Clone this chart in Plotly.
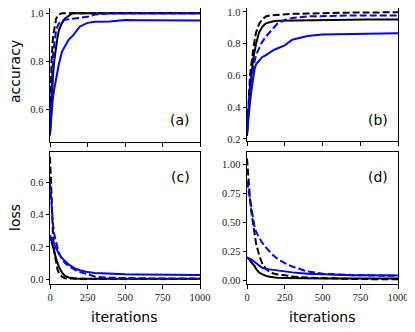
import plotly.graph_objects as go
from plotly.subplots import make_subplots

# page body has an 8px margin, so the figure is drawn 8px smaller and everything shifted
OFF = 8
W, H = 415 - OFF, 332 - OFF

iters = [0, 10, 20, 30, 40, 50, 60, 80, 100, 125, 150, 175, 200, 250, 300,
         400, 500, 600, 700, 800, 900, 1000]

# (a) accuracy
acc_a_black = [0.49, 0.63, 0.74, 0.81, 0.86, 0.90, 0.93, 0.96, 0.978, 0.99, 1.0,
               1.0, 1.0, 1.0, 1.0, 1.0, 1.0, 1.0, 1.0, 1.0, 1.0, 1.0]
acc_a_black_d = [0.50, 0.80, 0.90, 0.95, 0.975, 0.99, 0.995, 1.0, 1.0, 1.0, 1.0,
                 1.0, 1.0, 1.0, 1.0, 1.0, 1.0, 1.0, 1.0, 1.0, 1.0, 1.0]
acc_a_blue = [0.50, 0.60, 0.65, 0.69, 0.73, 0.76, 0.79, 0.84, 0.865, 0.89, 0.905,
              0.925, 0.945, 0.96, 0.965, 0.966, 0.972, 0.971, 0.970, 0.970, 0.970, 0.970]
acc_a_blue_d = [0.52, 0.72, 0.82, 0.88, 0.925, 0.945, 0.958, 0.968, 0.973, 0.975, 0.977,
                0.978, 0.98, 0.985, 0.995, 1.0, 1.0, 1.0, 1.0, 1.0, 1.0, 1.0]

# (b) accuracy
acc_b_black = [0.22, 0.38, 0.53, 0.60, 0.70, 0.75, 0.80, 0.87, 0.905, 0.928, 0.937,
               0.942, 0.944, 0.945, 0.945, 0.945, 0.946, 0.952, 0.952, 0.952, 0.952, 0.952]
acc_b_black_d = [0.22, 0.42, 0.60, 0.68, 0.76, 0.82, 0.87, 0.925, 0.952, 0.972, 0.978,
                 0.98, 0.982, 0.985, 0.988, 0.99, 0.993, 0.995, 0.996, 0.997, 0.998, 0.998]
acc_b_blue = [0.24, 0.36, 0.43, 0.51, 0.58, 0.64, 0.67, 0.695, 0.715, 0.728, 0.745,
              0.76, 0.77, 0.79, 0.825, 0.848, 0.858, 0.86, 0.862, 0.864, 0.865, 0.866]
acc_b_blue_d = [0.24, 0.38, 0.50, 0.58, 0.65, 0.69, 0.73, 0.77, 0.81, 0.845, 0.87,
                0.90, 0.925, 0.95, 0.962, 0.972, 0.975, 0.977, 0.978, 0.978, 0.978, 0.978]

# (c) loss
loss_c_black = [0.27, 0.23, 0.19, 0.16, 0.13, 0.10, 0.075, 0.04, 0.02, 0.01, 0.005,
                0.003, 0.002, 0.001, 0.001, 0.001, 0.001, 0.001, 0.001, 0.001, 0.001, 0.001]
loss_c_black_d = [0.76, 0.45, 0.27, 0.16, 0.10, 0.06, 0.035, 0.015, 0.004, 0.002, 0.001,
                  0.001, 0.001, 0.0, 0.0, 0.0, 0.0, 0.0, 0.0, 0.0, 0.0, 0.0]
loss_c_blue = [0.27, 0.25, 0.23, 0.21, 0.195, 0.175, 0.155, 0.13, 0.11, 0.09, 0.075,
               0.062, 0.055, 0.043, 0.037, 0.031, 0.029, 0.028, 0.027, 0.026, 0.025, 0.025]
loss_c_blue_d = [0.60, 0.45, 0.34, 0.27, 0.23, 0.19, 0.16, 0.125, 0.10, 0.08, 0.065,
                 0.052, 0.044, 0.028, 0.015, 0.008, 0.005, 0.004, 0.003, 0.003, 0.003, 0.003]

# (d) loss
loss_d_black = [0.20, 0.19, 0.17, 0.155, 0.14, 0.125, 0.10, 0.07, 0.055, 0.04, 0.033,
                0.028, 0.024, 0.022, 0.02, 0.019, 0.018, 0.018, 0.017, 0.017, 0.017, 0.017]
loss_d_black_d = [1.05, 0.85, 0.70, 0.58, 0.48, 0.40, 0.32, 0.22, 0.15, 0.10, 0.075,
                  0.06, 0.052, 0.045, 0.035, 0.025, 0.02, 0.016, 0.013, 0.012, 0.011, 0.01]
loss_d_blue = [0.20, 0.195, 0.19, 0.18, 0.17, 0.16, 0.15, 0.125, 0.11, 0.10, 0.095,
               0.09, 0.085, 0.078, 0.07, 0.058, 0.052, 0.048, 0.046, 0.045, 0.044, 0.043]
loss_d_blue_d = [0.86, 0.78, 0.70, 0.58, 0.51, 0.46, 0.42, 0.37, 0.325, 0.285, 0.25,
                 0.215, 0.19, 0.15, 0.12, 0.078, 0.058, 0.05, 0.046, 0.044, 0.042, 0.04]

x_ticks = [0, 250, 500, 750, 1000]

panels = [
    (1, 1, [acc_a_black, acc_a_black_d, acc_a_blue, acc_a_blue_d]),
    (1, 2, [acc_b_black, acc_b_black_d, acc_b_blue, acc_b_blue_d]),
    (2, 1, [loss_c_black, loss_c_black_d, loss_c_blue, loss_c_blue_d]),
    (2, 2, [loss_d_black, loss_d_black_d, loss_d_blue, loss_d_blue_d]),
]
styles = [("black", "solid"), ("black", "7px,3px"), ("#0000ff", "solid"), ("#0000ff", "7px,3px")]

fig = make_subplots(rows=2, cols=2)

for r, c, series in panels:
    for ys, (col, dash) in zip(series, styles):
        fig.add_trace(go.Scatter(x=iters, y=ys, mode="lines",
                                 line=dict(color=col, width=2, dash=dash),
                                 showlegend=False, hoverinfo="skip"), row=r, col=c)


def px_x(x):
    return (x - OFF) / W


def px_y(y):
    return 1 - (y - OFF) / H


# pixel boxes of the four panels in the window (left, right, top, bottom)
boxes = {(1, 1): (50, 200, 8, 142), (1, 2): (247, 398, 8, 141),
         (2, 1): (50, 200, 152, 284), (2, 2): (247, 398, 152, 284)}
yranges = {(1, 1): [0.4625, 1.022], (1, 2): [0.187, 1.025],
           (2, 1): [-0.031, 0.79], (2, 2): [-0.03, 1.106]}
yticks = {(1, 1): [0.6, 0.8, 1.0], (1, 2): [0.2, 0.4, 0.6, 0.8, 1.0],
          (2, 1): [0.0, 0.2, 0.4, 0.6], (2, 2): [0.0, 0.25, 0.5, 0.75, 1.0]}
yfmt = {(1, 1): ".1f", (1, 2): ".1f", (2, 1): ".1f", (2, 2): ".2f"}

tick_font = dict(family="Liberation Serif, serif", size=10.5, color="#222")
axis_common = dict(showline=True, linecolor="black", linewidth=1, mirror=True,
                   ticks="outside", ticklen=3.5, tickwidth=1, tickcolor="black",
                   showgrid=False, zeroline=False, tickfont=tick_font,
                   automargin=False, ticklabeloverflow="allow")

for (r, c), (l, rr, t, b) in boxes.items():
    fig.update_xaxes(domain=[max(px_x(l), 0), min(px_x(rr), 1)], range=[0, 1000],
                     tickvals=x_ticks, showticklabels=(r == 2), **axis_common, row=r, col=c)
    fig.update_yaxes(domain=[max(px_y(b), 0), min(px_y(t), 1)], range=yranges[(r, c)],
                     tickvals=yticks[(r, c)], tickformat=yfmt[(r, c)],
                     **axis_common, row=r, col=c)

lab_font = dict(family="DejaVu Sans", size=14, color="black")
ann = [
    dict(text="accuracy", x=px_x(15), y=px_y(72), textangle=-90),
    dict(text="loss", x=px_x(15), y=px_y(218), textangle=-90),
    dict(text="iterations", x=px_x(124), y=px_y(317)),
    dict(text="iterations", x=px_x(322), y=px_y(317)),
]
for a in ann:
    fig.add_annotation(xref="paper", yref="paper", showarrow=False,
                       xanchor="center", yanchor="middle", font=lab_font, **a)

panel_font = dict(family="DejaVu Sans", size=14, color="black")
tags = [("(a)", 192, 120), ("(b)", 390, 120), ("(c)", 192, 177), ("(d)", 390, 177)]
for txt, px_, py_ in tags:
    fig.add_annotation(text=txt, xref="paper", yref="paper", x=px_x(px_), y=px_y(py_),
                       xanchor="right", yanchor="middle", showarrow=False, font=panel_font)

fig.update_layout(width=W, height=H, margin=dict(l=0, r=0, t=0, b=0),
                  paper_bgcolor="white", plot_bgcolor="white")

fig.write_html("out.html")
